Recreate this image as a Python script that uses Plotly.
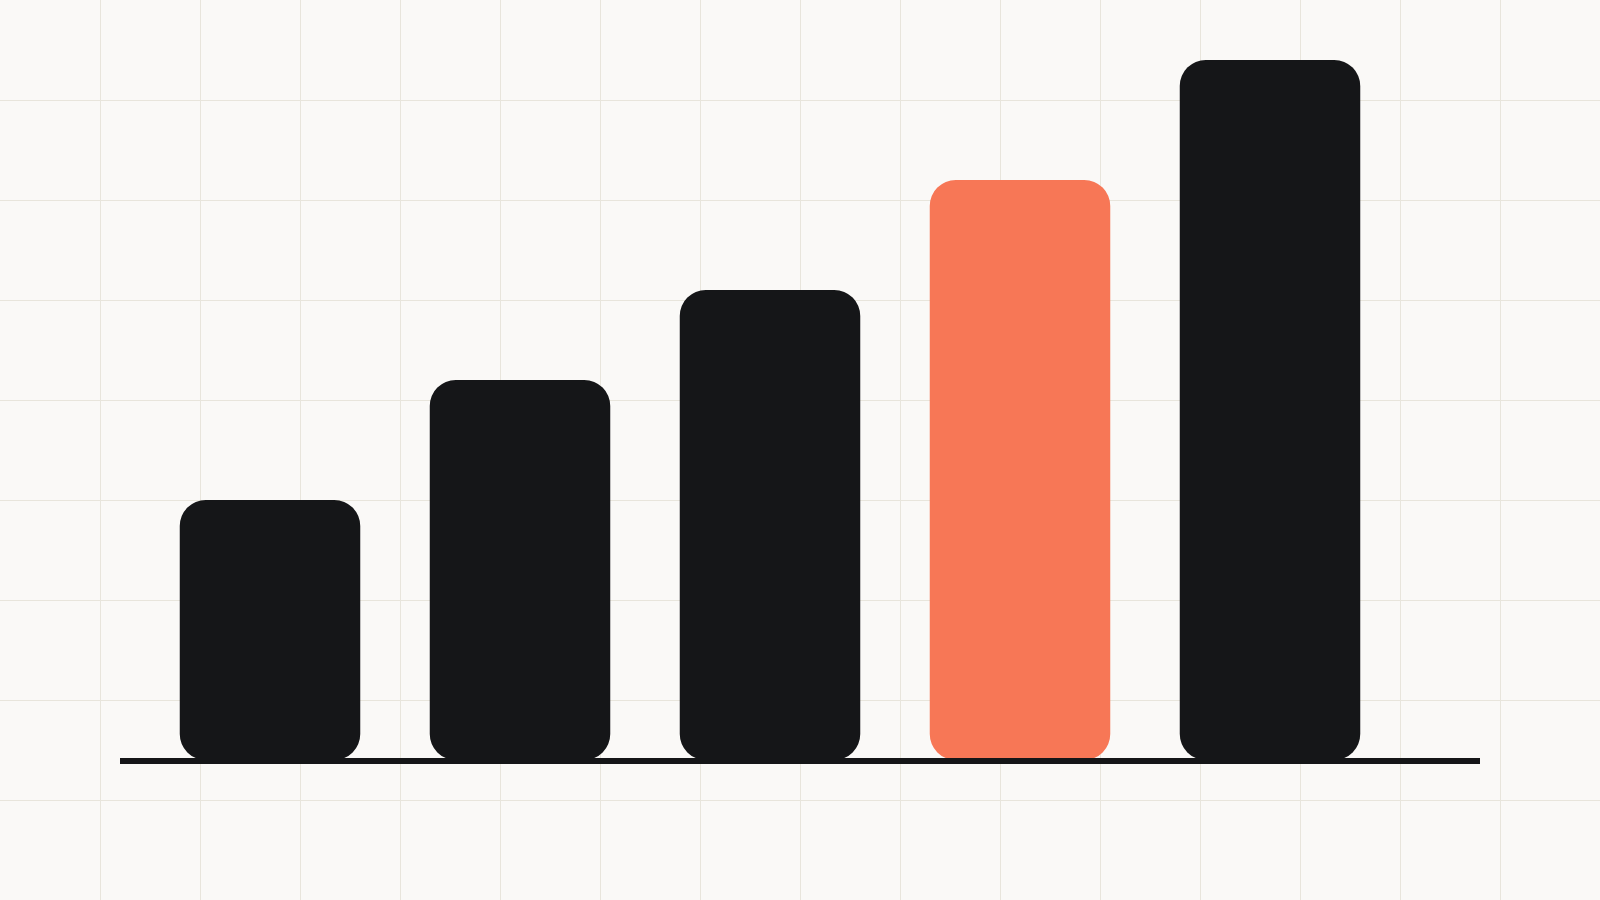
import plotly.graph_objects as go

# --- data ---
categories = ["A", "B", "C", "D", "E"]
values = [26, 38, 47, 58, 70]
highlight = "D"

ink = "#151618"
accent = "#f77756"
paper = "#faf9f7"
grid = "#e8e5dc"

colors = [accent if c == highlight else ink for c in categories]

fig = go.Figure()

# empty trace so the full-page grid subplot gets drawn
fig.add_trace(go.Scatter(x=[], y=[], xaxis="x", yaxis="y", showlegend=False,
                         hoverinfo="skip"))

# an explicit base makes plotly round both ends of each bar
fig.add_trace(go.Bar(
    x=categories, y=values, base=[0] * len(values),
    marker=dict(color=colors, cornerradius=26, line=dict(width=0)),
    width=0.722, xaxis="x2", yaxis="y2", hoverinfo="skip", showlegend=False,
))

fig.update_layout(
    width=1600, height=900,
    margin=dict(l=0, r=0, t=0, b=0),
    paper_bgcolor=paper,
    plot_bgcolor="rgba(0,0,0,0)",
    # background grid over the full page
    xaxis=dict(range=[0, 1600], tick0=0, dtick=100, showgrid=True, gridcolor=grid,
               gridwidth=1, zeroline=False, showticklabels=False, ticks="",
               showline=False, fixedrange=True, domain=[0, 1]),
    yaxis=dict(range=[900, 0], tick0=0, dtick=100, showgrid=True, gridcolor=grid,
               gridwidth=1, zeroline=False, showticklabels=False, ticks="",
               showline=False, fixedrange=True, domain=[0, 1]),
    # bar axes
    xaxis2=dict(type="category", domain=[120 / 1600, 1480 / 1600], anchor="y2",
                range=[-0.6, 4.84], showgrid=False, zeroline=False,
                showticklabels=False, ticks="", showline=True,
                linecolor=ink, linewidth=6, fixedrange=True),
    yaxis2=dict(domain=[142 / 900, 1], anchor="x2", range=[0.2, 76],
                showgrid=False, zeroline=False, showticklabels=False,
                ticks="", showline=False, fixedrange=True),
)

fig.write_html("out.html", config={"displayModeBar": False},
               post_script="document.body.style.margin='0';")
